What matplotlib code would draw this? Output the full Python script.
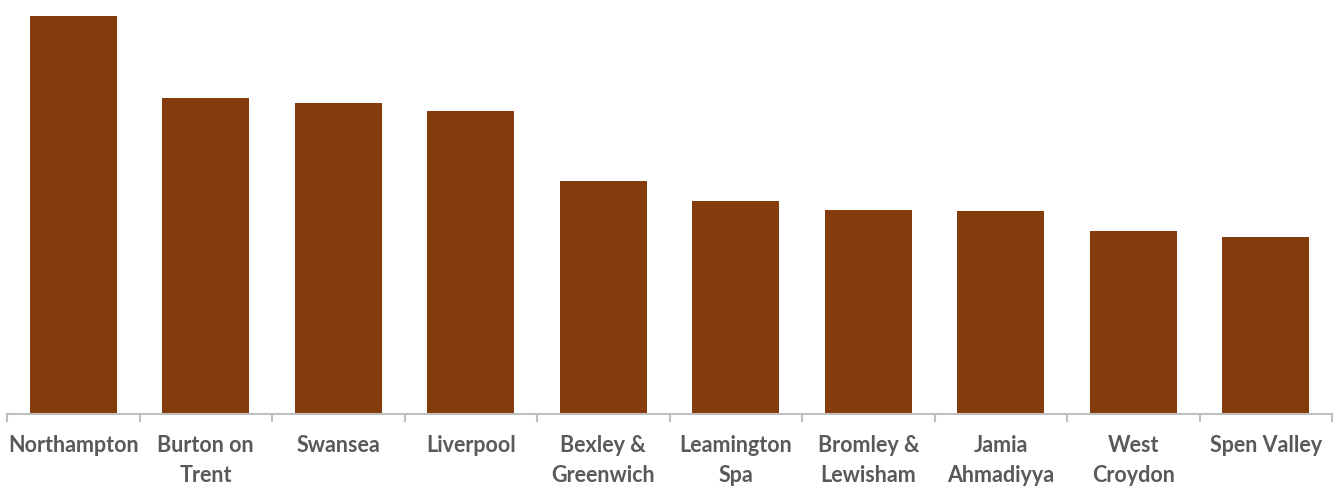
import matplotlib
matplotlib.use("Agg")
import matplotlib.pyplot as plt
import numpy as np

categories = ["Northampton", "Burton on\nTrent", "Swansea", "Liverpool", "Bexley &\nGreenwich",
              "Leamington\nSpa", "Bromley &\nLewisham", "Jamia\nAhmadiyya", "West\nCroydon", "Spen Valley"]
values = [397, 315, 310, 302, 232, 212, 203, 202, 183, 177]

fig = plt.figure(figsize=(13.33, 4.88), dpi=100)
ax = fig.add_axes([7/1333, (488-414)/488, 1325/1333, (414-16)/488])
x = np.arange(len(categories))
ax.bar(x, values, width=0.66, color="#843C0C")
ax.set_xlim(-0.5, len(categories) - 0.5)
ax.set_ylim(0, 397)
for s in ["top", "right", "left"]:
    ax.spines[s].set_visible(False)
ax.spines["bottom"].set_color("#BFBFBF")
ax.spines["bottom"].set_linewidth(1.5)
ax.set_yticks([])
ax.set_xticks(x)
ax.set_xticklabels(categories, fontsize=15.5, fontweight="bold", color="#595959",
                   family=["Lato", "DejaVu Sans"], linespacing=1.55)
ax.tick_params(axis="x", which="major", length=0, pad=15)
ax.set_xticks(np.arange(len(categories) + 1) - 0.5, minor=True)
ax.tick_params(axis="x", which="minor", length=6, width=1.5, color="#BFBFBF")
fig.savefig("out.png", dpi=100)
